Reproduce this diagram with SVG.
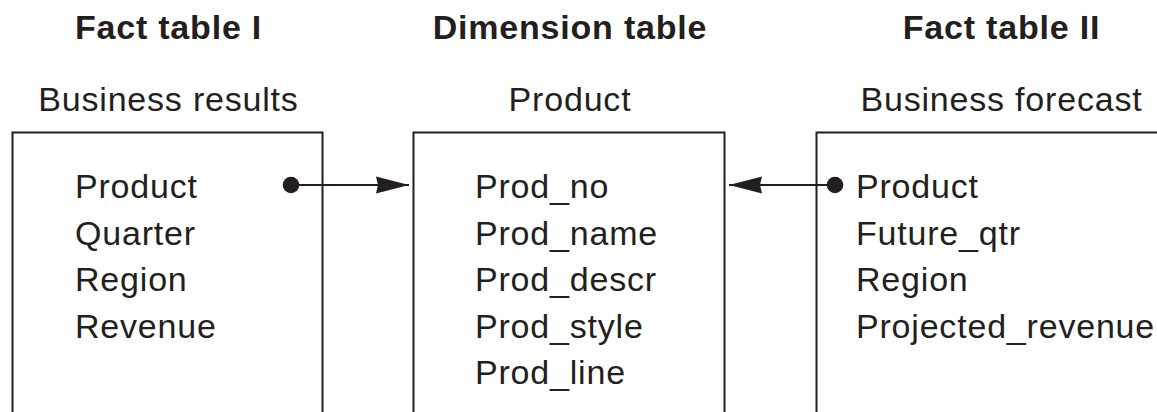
<svg xmlns="http://www.w3.org/2000/svg" width="1157" height="412" viewBox="0 0 1157 412">
<style>
text{font-family:"Liberation Sans",Arial,Helvetica,sans-serif;fill:#231f20;font-size:34px;letter-spacing:0.8px}
.title{font-weight:bold;text-anchor:middle}
.sub{text-anchor:middle}
.box{fill:none;stroke:#231f20;stroke-width:2}
.conn{stroke:#231f20;stroke-width:2;fill:none}
.dot{fill:#231f20}
</style>
<defs>
<marker id="arrow" viewBox="0 0 33 18" refX="33" refY="9" markerWidth="33" markerHeight="18" markerUnits="userSpaceOnUse" orient="auto">
<path d="M0,0.5 L33,9 L0,17.5 L2,9 Z" fill="#231f20"/>
</marker>
</defs>
<g id="fact1">
<text class="title" x="168.5" y="39">Fact table I</text>
<text class="sub" x="168.5" y="111">Business results</text>
<path class="box" d="M12.5,412 V132.5 H322.5 V412"/>
<text x="75" y="198">Product</text>
<text x="75" y="244.5">Quarter</text>
<text x="75" y="291">Region</text>
<text x="75" y="337.5">Revenue</text>
</g>
<g id="dimension">
<text class="title" x="570" y="39">Dimension table</text>
<text class="sub" x="570" y="111">Product</text>
<path class="box" d="M413.5,412 V132.5 H724.5 V412"/>
<text x="475" y="198">Prod_no</text>
<text x="475" y="244.5">Prod_name</text>
<text x="475" y="291">Prod_descr</text>
<text x="475" y="337.5">Prod_style</text>
<text x="475" y="384">Prod_line</text>
</g>
<g id="fact2">
<text class="title" x="1001.5" y="39">Fact table II</text>
<text class="sub" x="1001.5" y="111">Business forecast</text>
<path class="box" d="M816.5,412 V132.5 H1160"/>
<text x="856" y="198">Product</text>
<text x="856" y="244.5">Future_qtr</text>
<text x="856" y="291">Region</text>
<text x="856" y="337.5">Projected_revenue</text>
</g>
<g id="connectors">
<circle class="dot" cx="291" cy="185" r="8.3"/>
<line class="conn" x1="291" y1="185" x2="409" y2="185" marker-end="url(#arrow)"/>
<circle class="dot" cx="835" cy="185" r="8.3"/>
<line class="conn" x1="835" y1="185" x2="729" y2="185" marker-end="url(#arrow)"/>
</g>
</svg>
